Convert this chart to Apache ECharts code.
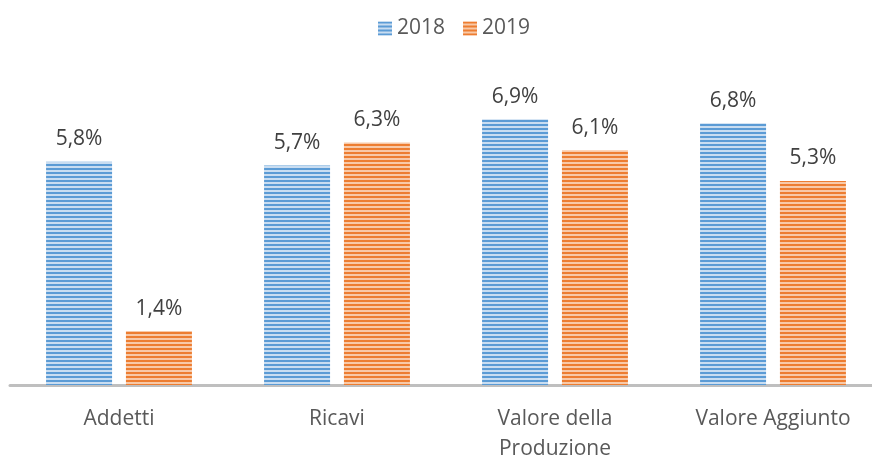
<!DOCTYPE html>
<html>
<head>
<meta charset="utf-8">
<script src="https://cdn.jsdelivr.net/npm/echarts@6/dist/echarts.min.js"></script>
<style>
  html, body { margin: 0; padding: 0; background: #fff; }
  #chart { width: 872px; height: 455px; }
</style>
</head>
<body>
<div id="chart"></div>
<script>
const categories = ['Addetti', 'Ricavi', 'Valore della\nProduzione', 'Valore Aggiunto'];
const years = ['2018', '2019'];
const values2018 = [5.8, 5.7, 6.9, 6.8];
const values2019 = [1.4, 6.3, 6.1, 5.3];

// horizontal stripes like the Excel pattern fill
function stripes(dark, light) {
  const c = document.createElement('canvas');
  c.width = 4;
  c.height = 4;
  const ctx = c.getContext('2d');
  ctx.fillStyle = light;
  ctx.fillRect(0, 0, 4, 4);
  ctx.fillStyle = dark;
  ctx.fillRect(0, 0, 4, 2);
  return { image: c, repeat: 'repeat' };
}

const blue = stripes('#5B9BD5', '#C9DDF1');
const orange = stripes('#ED7D31', '#F8C9A8');

const font = '"Open Sans", sans-serif';

function label() {
  return {
    show: true,
    position: 'top',
    distance: 12,
    color: '#404040',
    fontSize: 21,
    fontFamily: font,
    formatter: p => p.value.toFixed(1).replace('.', ',') + '%'
  };
}

const chart = echarts.init(document.getElementById('chart'));
chart.setOption({
  animation: false,
  legend: {
    data: years,
    top: 13,
    left: 373,
    icon: 'rect',
    itemWidth: 14,
    itemHeight: 14,
    itemGap: 18,
    textStyle: { color: '#595959', fontSize: 21, fontFamily: font }
  },
  grid: { left: 10, width: 872, top: 77, bottom: 70, outerBoundsMode: 'none' },
  xAxis: {
    type: 'category',
    data: categories,
    axisLine: { lineStyle: { color: '#BFBFBF', width: 3 } },
    axisTick: { show: false },
    axisLabel: {
      color: '#595959',
      fontSize: 21,
      fontFamily: font,
      lineHeight: 30,
      margin: 19
    }
  },
  yAxis: {
    type: 'value',
    min: 0,
    max: 8,
    show: false,
    splitLine: { show: false }
  },
  series: [
    {
      name: years[0],
      type: 'bar',
      data: values2018,
      barWidth: 66,
      barGap: '21%',
      itemStyle: { color: blue },
      label: label()
    },
    {
      name: years[1],
      type: 'bar',
      data: values2019,
      barWidth: 66,
      itemStyle: { color: orange },
      label: label()
    }
  ]
});
</script>
</body>
</html>
